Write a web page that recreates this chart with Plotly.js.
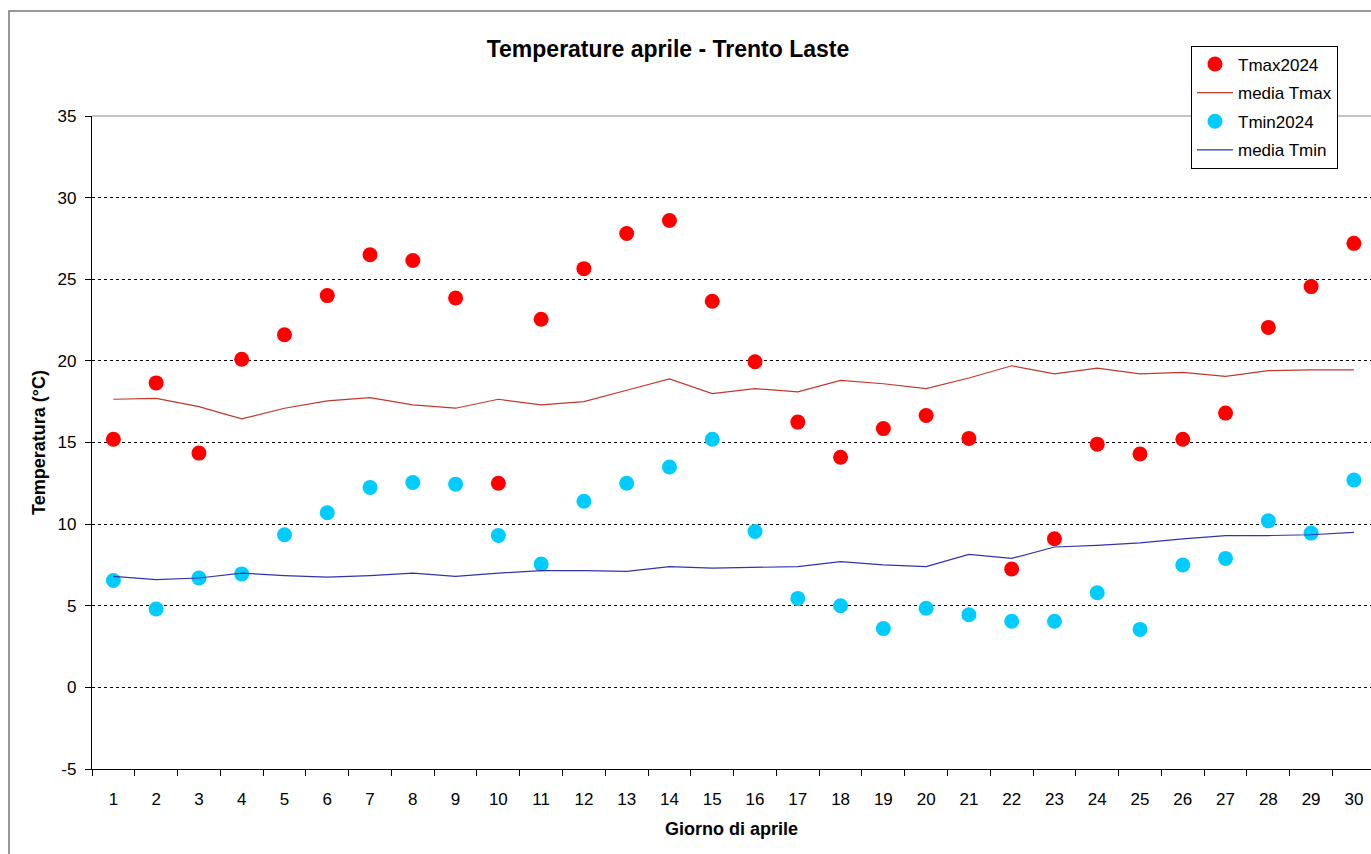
<!DOCTYPE html>
<html>
<head>
<meta charset="utf-8">
<script src="https://cdn.plot.ly/plotly-3.0.1.min.js"></script>
<style>html,body{margin:0;padding:0;background:#fff;}#chart{width:1371px;height:854px;}</style>
</head>
<body>
<div id="chart"></div>
<script>
const days = [1,2,3,4,5,6,7,8,9,10,11,12,13,14,15,16,17,18,19,20,21,22,23,24,25,26,27,28,29,30];
const tmax2024 = [15.2,18.65,14.35,20.1,21.6,24.0,26.5,26.15,23.85,12.5,22.55,25.65,27.8,28.6,23.65,19.95,16.25,14.1,15.85,16.65,15.25,7.25,9.1,14.9,14.3,15.2,16.8,22.05,24.55,27.2];
const mediaTmax = [17.65,17.7,17.2,16.45,17.1,17.55,17.75,17.3,17.1,17.65,17.3,17.5,18.2,18.9,18.0,18.3,18.1,18.8,18.6,18.3,18.95,19.7,19.2,19.55,19.2,19.3,19.05,19.4,19.45,19.45];
const tmin2024 = [6.55,4.8,6.7,6.95,9.35,10.7,12.25,12.55,12.45,9.3,7.55,11.4,12.5,13.5,15.2,9.55,5.45,5.0,3.6,4.85,4.45,4.05,4.05,5.8,3.55,7.5,7.9,10.2,9.45,12.7];
const mediaTmin = [6.8,6.6,6.7,7.0,6.85,6.75,6.85,7.0,6.8,7.0,7.15,7.15,7.1,7.4,7.3,7.35,7.4,7.7,7.5,7.4,8.15,7.9,8.6,8.7,8.85,9.1,9.3,9.3,9.35,9.5];
const tickLabels = days.map(String);
const yTicks = [-5,0,5,10,15,20,25,30,35];
const yTickLabels = ['-5','0','5','10','15','20','25','30','35'];

const FONT = 'Liberation Sans, Arial, sans-serif';
const xRange = [0.5, 30.4];

const traces = [
  {x: days, y: tmax2024, name: 'Tmax2024', type: 'scatter', mode: 'markers',
   marker: {color: '#FF0000', size: 15}, legendgroup: 'a', cliponaxis: false},
  {x: days, y: mediaTmax, name: 'media Tmax', type: 'scatter', mode: 'lines',
   line: {color: '#C0392B', width: 1.2}, legendgroup: 'b'},
  {x: days, y: tmin2024, name: 'Tmin2024', type: 'scatter', mode: 'markers',
   marker: {color: '#00CCFF', size: 15}, legendgroup: 'c', cliponaxis: false},
  {x: days, y: mediaTmin, name: 'media Tmin', type: 'scatter', mode: 'lines',
   line: {color: '#3333AA', width: 1.2}, legendgroup: 'd'},
  {x: days, y: days.map(() => null), xaxis: 'x2', yaxis: 'y', showlegend: false, hoverinfo: 'skip', mode: 'markers'}
];

const layout = {
  width: 1371, height: 854,
  paper_bgcolor: '#ffffff', plot_bgcolor: '#ffffff',
  margin: {l: 92, r: 0, t: 116, b: 85},
  font: {family: FONT, color: '#000', size: 17},
  title: {text: '<b>Temperature aprile - Trento Laste</b>', font: {family: FONT, size: 23, color: '#000'},
          x: (668 - 92) / 1279, xref: 'paper', xanchor: 'center', y: 1 - 49 / 854, yref: 'container', yanchor: 'middle'},
  xaxis: {range: xRange, tickvals: days, ticktext: tickLabels, ticks: '', showgrid: false, zeroline: false,
          showline: true, linecolor: '#000', linewidth: 1.2, tickfont: {size: 17}, ticklabelstandoff: 14,
          title: {text: '<b>Giorno di aprile</b>', font: {size: 18}, standoff: 14}},
  xaxis2: {overlaying: 'x', range: xRange, tickvals: days.map(d => d - 0.5), ticks: 'outside', ticklen: 6,
           tickcolor: '#000', tickwidth: 1, showticklabels: false, showgrid: false, zeroline: false, showline: false,
           side: 'bottom', anchor: 'y'},
  yaxis: {range: [-5, 35], tickvals: yTicks, ticktext: yTickLabels, ticks: 'outside', ticklen: 6, tickcolor: '#000',
          showline: true, linecolor: '#000', linewidth: 1.2, zeroline: false,
          showgrid: true, gridcolor: '#000', gridwidth: 1, griddash: '3px,3px',
          tickfont: {size: 17}, ticklabelstandoff: 5,
          title: {text: '<b>Temperatura (°C)</b>', font: {size: 18}, standoff: 7}},
  legend: {x: (1191 - 92) / 1279, xanchor: 'left', y: (769.5 - 46) / 653, yanchor: 'top',
           bgcolor: '#ffffff', bordercolor: '#000', borderwidth: 1,
           font: {size: 17, color: '#000'}, traceorder: 'grouped', tracegroupgap: 3.5, itemwidth: 36},
  shapes: [
    {type: 'line', xref: 'paper', yref: 'paper', x0: 0, x1: 1.02, y0: 1, y1: 1, line: {color: '#888', width: 1.2}},
    {type: 'rect', xref: 'paper', yref: 'paper', x0: (9 - 92) / 1279, x1: 1.05, y0: -0.3, y1: (769.5 - 11.5) / 653,
     line: {color: '#777', width: 1.5}, fillcolor: 'rgba(0,0,0,0)', layer: 'below'}
  ],
  showlegend: true
};

Plotly.newPlot('chart', traces, layout, {displayModeBar: false, staticPlot: true});
</script>
</body>
</html>
